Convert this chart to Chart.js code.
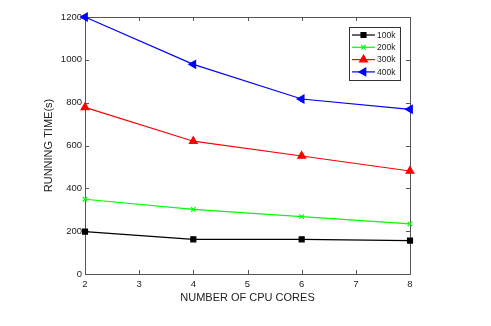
<!DOCTYPE html>
<html>
<head>
<meta charset="utf-8">
<script src="https://cdn.jsdelivr.net/npm/chart.js@4/dist/chart.umd.min.js"></script>
<style>
  html, body { margin: 0; padding: 0; background: #fff; }
  #wrap { width: 491px; height: 326px; }
</style>
</head>
<body>
<div id="wrap"><canvas id="myChart" width="491" height="326"></canvas></div>
<script>
// data
const cores = [2, 4, 6, 8];
const time100k = [198, 162, 162, 156];
const time200k = [349, 302, 268, 234];
const time300k = [778, 620, 551, 481];
const time400k = [1200, 979, 817, 769];
const xTicks = [2, 3, 4, 5, 6, 7, 8];
const yTicks = [0, 200, 400, 600, 800, 1000, 1200];

const axisColor = '#555';
const textColor = '#222';
const fontFamily = 'Liberation Sans, Arial, sans-serif';

function pts(vals) {
  return cores.map((c, i) => ({ x: c, y: vals[i] }));
}

// box round the plot with inward ticks, matlab style
const boxTicks = {
  id: 'boxTicks',
  beforeDatasetsDraw(chart) {
    const ctx = chart.ctx;
    const a = chart.chartArea;
    const xs = chart.scales.x, ys = chart.scales.y;
    ctx.save();
    ctx.strokeStyle = axisColor;
    ctx.lineWidth = 1;
    ctx.strokeRect(a.left + 0.5, a.top + 0.5, a.right - a.left, a.bottom - a.top);
    ctx.beginPath();
    xTicks.forEach(v => {
      const px = Math.round(xs.getPixelForValue(v)) + 0.5;
      ctx.moveTo(px, a.bottom); ctx.lineTo(px, a.bottom - 4);
      ctx.moveTo(px, a.top); ctx.lineTo(px, a.top + 4);
    });
    yTicks.forEach(v => {
      const py = Math.round(ys.getPixelForValue(v)) + 0.5;
      ctx.moveTo(a.left, py); ctx.lineTo(a.left + 4, py);
      ctx.moveTo(a.right, py); ctx.lineTo(a.right - 4, py);
    });
    ctx.stroke();
    ctx.restore();
  },
  afterDraw(chart) {
    // legend box in the top right corner
    const ctx = chart.ctx;
    const bx = 349, by = 27, bw = 51, bh = 53;
    ctx.save();
    ctx.fillStyle = '#fff';
    ctx.fillRect(bx, by, bw, bh);
    ctx.strokeStyle = '#333';
    ctx.lineWidth = 1;
    ctx.strokeRect(bx + 0.5, by + 0.5, bw, bh);
    ctx.font = '8.5px ' + fontFamily;
    ctx.textBaseline = 'middle';
    chart.data.datasets.forEach((ds, i) => {
      const y = by + 8 + i * 12.3;
      ctx.strokeStyle = ds.borderColor;
      ctx.fillStyle = ds.borderColor;
      ctx.lineWidth = 1.2;
      ctx.beginPath();
      ctx.moveTo(bx + 3, y); ctx.lineTo(bx + 26, y);
      ctx.stroke();
      Chart.helpers.drawPoint(ctx, {
        pointStyle: ds.pointStyle,
        radius: ds.pointRadius,
        rotation: ds.pointRotation || 0,
        borderWidth: 1.2
      }, bx + 14.5, y);
      ctx.fillStyle = textColor;
      ctx.fillText(ds.label, bx + 28, y + 0.5);
    });
    ctx.restore();
  }
};

function makeSet(label, vals, color, style, radius, rot) {
  return {
    label: label,
    data: pts(vals),
    borderColor: color,
    backgroundColor: color,
    borderWidth: 1.2,
    pointStyle: style,
    pointRadius: radius,
    pointRotation: rot || 0,
    pointBorderWidth: 1.2,
    pointBackgroundColor: color,
    pointBorderColor: color,
    tension: 0,
    clip: false
  };
}

const ctx = document.getElementById('myChart').getContext('2d');
const myChart = new Chart(ctx, {
  type: 'line',
  data: {
    datasets: [
      makeSet('100k', time100k, '#000000', 'rect', 3.5),
      makeSet('200k', time200k, '#00ff00', 'crossRot', 3.2),
      makeSet('300k', time300k, '#ff0000', 'triangle', 4.5),
      makeSet('400k', time400k, '#0000ff', 'triangle', 4.5, -90)
    ]
  },
  plugins: [boxTicks],
  options: {
    responsive: false,
    animation: false,
    devicePixelRatio: 1,
    layout: { padding: { left: 0, top: 17, right: 81, bottom: 0 } },
    plugins: {
      legend: { display: false },
      tooltip: { enabled: false }
    },
    scales: {
      x: {
        type: 'linear',
        min: 2, max: 8,
        afterBuildTicks: s => { s.ticks = xTicks.map(v => ({ value: v })); },
        afterFit: s => { s.height = 326 - 274; },
        grid: { display: false, drawTicks: false, tickLength: 0 },
        border: { display: false },
        ticks: {
          color: textColor, font: { family: fontFamily, size: 9.5 }, padding: 5, maxRotation: 0,
          callback: v => String(v)
        },
        title: {
          display: true,
          text: 'NUMBER OF CPU CORES',
          color: textColor,
          font: { family: fontFamily, size: 11 },
          padding: { top: 2, bottom: 21 }
        }
      },
      y: {
        min: 0, max: 1200,
        afterBuildTicks: s => { s.ticks = yTicks.map(v => ({ value: v })); },
        afterFit: s => { s.width = 85; },
        grid: { display: false, drawTicks: false, tickLength: 0 },
        border: { display: false },
        ticks: {
          color: textColor, font: { family: fontFamily, size: 9.5 }, padding: 3,
          callback: v => String(v)
        },
        title: {
          display: true,
          text: 'RUNNING TIME(s)',
          color: textColor,
          font: { family: fontFamily, size: 11 },
          padding: { top: 42, bottom: 0 }
        }
      }
    }
  }
});
</script>
</body>
</html>
